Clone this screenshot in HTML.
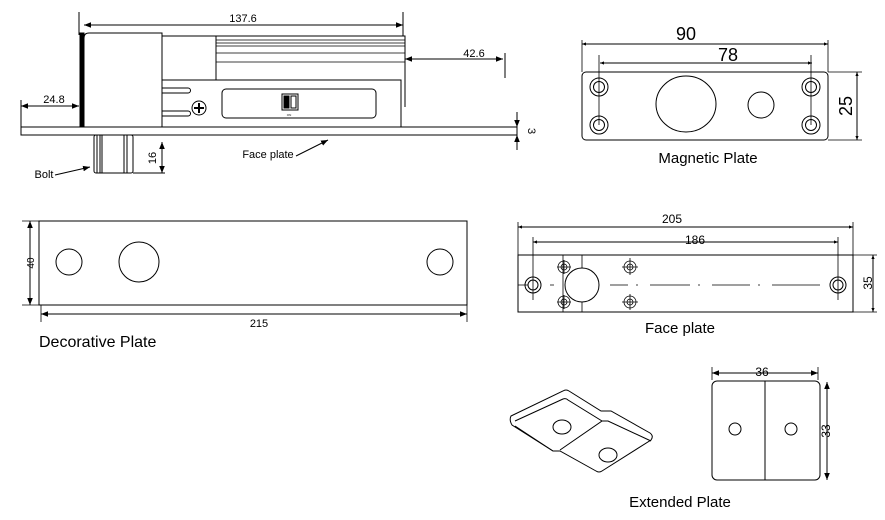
<!DOCTYPE html>
<html><head><style>body{margin:0;background:#fff}svg{display:block}</style></head><body>
<svg width="885" height="520" viewBox="0 0 885 520" xmlns="http://www.w3.org/2000/svg" font-family="Liberation Sans, Arial, sans-serif">
<defs>
<marker id="a" viewBox="0 0 10 10" refX="10" refY="5" markerWidth="7" markerHeight="7" orient="auto-start-reverse"><path d="M0,1 L10,5 L0,9 z" fill="#000"/></marker>
<marker id="s" viewBox="0 0 10 10" refX="10" refY="5" markerWidth="4" markerHeight="4" orient="auto-start-reverse"><path d="M0,1 L10,5 L0,9 z" fill="#000"/></marker>
</defs>
<g fill="none" stroke="#000" stroke-width="1">
<!-- top view -->
<rect x="21" y="127" width="496" height="8" fill="#fff"/>
<rect x="80" y="33" width="4" height="94" fill="#000"/>
<path d="M84,127 V38 Q84,33 89,33 H162 V127"/>
<path d="M162,36 H405 V80 M216,36 V80"/>
<path d="M216,40 H405 M216,43 H405 M216,46 H405 M216,53 H405 M216,62 H405" stroke-width="0.8"/>
<path d="M162,80 H401 V127"/>
<path d="M405,80 V107"/>
<path d="M162,88 H188 M162,93 H188 M162,111 H188 M162,116 H188 M188,88 A2.5,2.5 0 0 1 188,93 M188,111 A2.5,2.5 0 0 1 188,116"/>
<circle cx="199" cy="108" r="7"/>
<path d="M199,103 V113 M194,108 H204" stroke-width="2"/>
<rect x="222" y="89" width="154" height="29" rx="4"/>
<rect x="282" y="94" width="16" height="16"/>
<rect x="284" y="96" width="5" height="12" fill="#000"/>
<rect x="291" y="96" width="5" height="12"/>
<rect x="94" y="135" width="39" height="38" rx="2"/>
<path d="M97,135 V173 M100,135 V173 M102,135 V173 M124,135 V173 M127,135 V173"/>
<path d="M79,12 V35 M403,12 V36 M505,53 V78 M21,100 V127 M517,112 V150 M133,173 H165"/>
<line x1="84" y1="25" x2="403" y2="25" marker-start="url(#a)" marker-end="url(#a)"/>
<line x1="405" y1="59" x2="503" y2="59" marker-start="url(#a)" marker-end="url(#a)"/>
<line x1="21" y1="106" x2="79" y2="106" marker-start="url(#a)" marker-end="url(#a)"/>
<line x1="517" y1="113" x2="517" y2="127" marker-end="url(#a)"/>
<line x1="517" y1="150" x2="517" y2="135" marker-end="url(#a)"/>
<line x1="162" y1="142" x2="162" y2="173" marker-start="url(#a)" marker-end="url(#a)"/>
<line x1="55" y1="175" x2="90" y2="167" marker-end="url(#a)"/>
<line x1="296" y1="156" x2="328" y2="140" marker-end="url(#a)"/>
<!-- magnetic plate -->
<rect x="582" y="72" width="246" height="68" rx="4"/>
<circle cx="599" cy="87" r="9"/><circle cx="599" cy="87" r="5.5"/>
<circle cx="599" cy="125" r="9"/><circle cx="599" cy="125" r="5.5"/>
<circle cx="811" cy="87" r="9"/><circle cx="811" cy="87" r="5.5"/>
<circle cx="811" cy="125" r="9"/><circle cx="811" cy="125" r="5.5"/>
<ellipse cx="686" cy="104" rx="30" ry="28"/>
<circle cx="761" cy="105" r="13"/>
<path d="M582,40 V72 M828,40 V72 M599,55 V125 M811,55 V125 M828,72 H862 M828,140 H862" stroke-width="0.8"/>
<line x1="582" y1="44" x2="828" y2="44" marker-start="url(#s)" marker-end="url(#s)"/>
<line x1="600" y1="63" x2="812" y2="63" marker-start="url(#s)" marker-end="url(#s)"/>
<line x1="857" y1="72" x2="857" y2="140" marker-start="url(#s)" marker-end="url(#s)"/>
<!-- decorative plate -->
<rect x="39" y="221" width="428" height="84"/>
<circle cx="69" cy="262" r="13"/><circle cx="139" cy="262" r="20"/><circle cx="440" cy="262" r="13"/>
<path d="M22,221 H39 M22,305 H39 M41,305 V322 M467,305 V322" stroke-width="0.8"/>
<line x1="30" y1="221" x2="30" y2="305" marker-start="url(#a)" marker-end="url(#a)"/>
<line x1="41" y1="314" x2="467" y2="314" marker-start="url(#a)" marker-end="url(#a)"/>
<!-- face plate -->
<rect x="518" y="255" width="335" height="57"/>
<path d="M518,222 V255 M853,222 V255 M533,237 V300 M838,237 V300 M853,255 H877 M853,312 H877 M582,255 V312 M563,255 V312" stroke-width="0.8"/>
<line x1="518" y1="227" x2="853" y2="227" marker-start="url(#s)" marker-end="url(#s)"/>
<line x1="533" y1="242" x2="838" y2="242" marker-start="url(#s)" marker-end="url(#s)"/>
<line x1="873" y1="255" x2="873" y2="312" marker-start="url(#s)" marker-end="url(#s)"/>
<path d="M518,285 H528 M550,285 H554 M610,285 H628 M636,285 H638 M650,285 H690 M698,285 H700 M712,285 H750 M758,285 H760 M772,285 H820" stroke-width="0.8"/>
<circle cx="533" cy="285" r="8"/><circle cx="533" cy="285" r="5"/>
<circle cx="838" cy="285" r="8"/><circle cx="838" cy="285" r="5"/>
<circle cx="582" cy="285" r="17" fill="#fff"/>
<g stroke-width="0.8">
<circle cx="564" cy="267" r="6"/><circle cx="564" cy="267" r="3"/><path d="M557,267 H571 M564,260 V274"/>
<circle cx="564" cy="302" r="6"/><circle cx="564" cy="302" r="3"/><path d="M557,302 H571 M564,295 V309"/>
<circle cx="630" cy="267" r="6"/><circle cx="630" cy="267" r="3"/><path d="M622,267 H638 M630,258 V275"/>
<circle cx="630" cy="302" r="6"/><circle cx="630" cy="302" r="3"/><path d="M622,302 H638 M630,294 V310"/>
</g>
<!-- extended plate -->
<rect x="712" y="381" width="108" height="99" rx="5"/>
<path d="M765,381 V480"/>
<circle cx="735" cy="429" r="6"/><circle cx="791" cy="429" r="6"/>
<path d="M712,367 V380 M818,367 V380" stroke-width="0.8"/>
<line x1="712" y1="373" x2="818" y2="373" marker-start="url(#a)" marker-end="url(#a)"/>
<line x1="827" y1="382" x2="827" y2="480" marker-start="url(#a)" marker-end="url(#a)"/>
<path d="M511,416 L563,391 Q566,389 569,391 L601,411 L611,411 L650,433 Q654,436 651,440 L602,471 Q599,473 596,471 L560,451 L553,451 L512,425 Q509,420 511,416 Z"/>
<path d="M515,421 L563,399 Q566,398 568,400 L602,421 L560,450 M553,451 L515,426 M602,421 L608,421 L651,441"/>
<ellipse cx="562" cy="427" rx="9" ry="7"/>
<ellipse cx="608" cy="455" rx="9" ry="7"/>
</g>
<g fill="#000" font-size="11" text-anchor="middle">
<text x="243" y="22">137.6</text>
<text x="474" y="57">42.6</text>
<text x="54" y="103">24.8</text>
<text x="44" y="178">Bolt</text>
<text x="268" y="158">Face plate</text>
<text transform="translate(156,158) rotate(-90)">16</text>
<text transform="translate(528,131) rotate(90)">3</text>
<text x="686" y="40" font-size="18">90</text>
<text x="728" y="61" font-size="18">78</text>
<text transform="translate(852,106) rotate(-90)" font-size="18">25</text>
<text x="708" y="163" font-size="15">Magnetic Plate</text>
<text transform="translate(34,263) rotate(-90)" font-size="10">40</text>
<text x="259" y="327">215</text>
<text x="39" y="347" font-size="16" text-anchor="start">Decorative Plate</text>
<text x="672" y="223" font-size="12">205</text>
<text x="695" y="244" font-size="12">186</text>
<text transform="translate(872,283) rotate(-90)" font-size="12">35</text>
<text x="680" y="333" font-size="15">Face plate</text>
<text x="762" y="376" font-size="12">36</text>
<text transform="translate(830,431) rotate(-90)" font-size="12">33</text>
<text x="680" y="507" font-size="15">Extended Plate</text>
<text x="289" y="116" font-size="3">ON</text>
</g>
</svg>
</body></html>
